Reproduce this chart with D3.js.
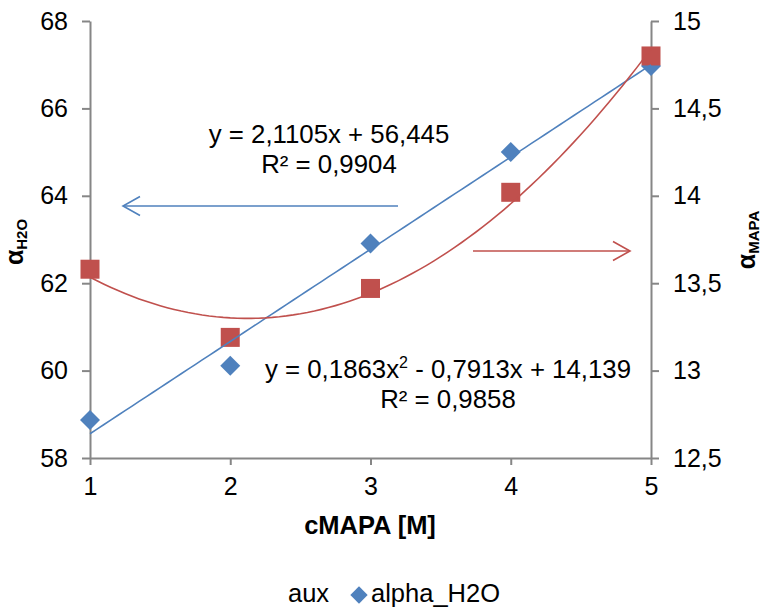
<!DOCTYPE html>
<html>
<head>
<meta charset="utf-8">
<script src="https://cdn.jsdelivr.net/npm/d3@7"></script>
<style>
  body { margin: 0; background: #fff; }
  svg { font-family: "Liberation Sans", Arial, sans-serif; }
</style>
</head>
<body>
<div id="chart"></div>
<script>
const width = 765, height = 610;

// data
const cMAPA = [1, 2, 3, 4, 5];
const alphaH2O = [58.87, 60.11, 62.91, 65.0, 66.97];
const alphaMAPA = [13.58, 13.19, 13.47, 14.02, 14.8];
const linCoef = [2.1105, 56.445];            // slope, intercept
const polyCoef = [0.1863, -0.7913, 14.139];  // a, b, c
const leftTicks = [58, 60, 62, 64, 66, 68];
const rightTicks = [12.5, 13, 13.5, 14, 14.5, 15];
const xTicks = [1, 2, 3, 4, 5];
const legendNames = ["aux", "alpha_H2O"];

const blue = "#4F81BD", red = "#C0504D", axisGrey = "#868686";

const svg = d3.select("#chart")
  .append("svg")
  .attr("width", width)
  .attr("height", height);

const xScale = d3.scaleLinear().domain([1, 5]).range([90, 651]);
const yLeft = d3.scaleLinear().domain([58, 68]).range([458, 21]);
const yRight = d3.scaleLinear().domain([12.5, 15]).range([458, 21]);

const fmt = d => String(d).replace(".", ",");

// axes
const xAxis = d3.axisBottom(xScale).tickValues(xTicks).tickSize(7).tickSizeOuter(0).tickPadding(9).tickFormat(d3.format("d"));
const leftAxis = d3.axisLeft(yLeft).tickValues(leftTicks).tickSize(8).tickSizeOuter(0).tickPadding(14).tickFormat(fmt);
const rightAxis = d3.axisRight(yRight).tickValues(rightTicks).tickSize(8).tickSizeOuter(0).tickPadding(14).tickFormat(fmt);

const styleAxis = g => {
  g.select(".domain").attr("stroke", axisGrey).attr("stroke-width", 2);
  g.selectAll(".tick line").attr("stroke", axisGrey).attr("stroke-width", 2);
  g.selectAll(".tick text").attr("fill", "#000").attr("font-size", 25)
    .attr("font-family", "'Liberation Sans', Arial, sans-serif");
};

svg.append("g").attr("transform", "translate(0,458)").call(xAxis).call(styleAxis)
  .selectAll(".tick text").attr("dy", "0.85em");
svg.append("g").attr("transform", "translate(90,0)").call(leftAxis).call(styleAxis);
svg.append("g").attr("transform", "translate(651,0)").call(rightAxis).call(styleAxis);

// markers
const diamond = d3.symbol().type(d3.symbolSquare).size(200);
svg.append("g").selectAll("path")
  .data(cMAPA.map((x, i) => ({ x, y: alphaH2O[i] })))
  .join("path")
  .attr("d", diamond)
  .attr("fill", blue)
  .attr("transform", d => `translate(${xScale(d.x)},${yLeft(d.y)}) rotate(45)`);

svg.append("g").selectAll("rect")
  .data(cMAPA.map((x, i) => ({ x, y: alphaMAPA[i] })))
  .join("rect")
  .attr("x", d => xScale(d.x) - 9.5)
  .attr("y", d => yRight(d.y) - 9.5)
  .attr("width", 19)
  .attr("height", 19)
  .attr("fill", red);

// trendlines
const xs = d3.range(1, 5.001, 0.05);
svg.append("path")
  .datum(xs)
  .attr("fill", "none")
  .attr("stroke", blue)
  .attr("stroke-width", 1.6)
  .attr("d", d3.line().x(x => xScale(x)).y(x => yLeft(linCoef[0] * x + linCoef[1])));

svg.append("path")
  .datum(xs)
  .attr("fill", "none")
  .attr("stroke", red)
  .attr("stroke-width", 1.6)
  .attr("d", d3.line().x(x => xScale(x)).y(x => yRight(polyCoef[0] * x * x + polyCoef[1] * x + polyCoef[2])));

// arrows
const arrow = (x1, x2, y, color) => {
  const dir = Math.sign(x2 - x1);
  svg.append("line").attr("x1", x1).attr("x2", x2).attr("y1", y).attr("y2", y)
    .attr("stroke", color).attr("stroke-width", 1.6);
  svg.append("path")
    .attr("d", `M${x2 - dir * 17},${y - 9.5} L${x2},${y} L${x2 - dir * 17},${y + 9.5}`)
    .attr("fill", "none").attr("stroke", color).attr("stroke-width", 1.6);
};
arrow(398, 123, 206, blue);
arrow(473, 630, 251, red);

// equations
const eq = svg.append("g").attr("font-size", 25.8).attr("fill", "#000").attr("text-anchor", "middle");
eq.append("text").attr("x", 329).attr("y", 143).text("y = 2,1105x + 56,445");
eq.append("text").attr("x", 329).attr("y", 173).text("R² = 0,9904");
const eq2 = eq.append("text").attr("x", 448).attr("y", 378);
eq2.append("tspan").text("y = 0,1863x");
eq2.append("tspan").attr("font-size", 16).attr("dy", -10).text("2");
eq2.append("tspan").attr("dy", 10).text(" - 0,7913x + 14,139");
eq.append("text").attr("x", 448).attr("y", 408).text("R² = 0,9858");

// axis titles
svg.append("text")
  .attr("x", 370).attr("y", 534)
  .attr("text-anchor", "middle")
  .attr("font-size", 25.5).attr("font-weight", "bold")
  .text("cMAPA [M]");

const yTitle = (x, y, sub) => {
  const t = svg.append("text")
    .attr("transform", `translate(${x},${y}) rotate(-90)`)
    .attr("text-anchor", "middle")
    .attr("font-weight", "bold");
  t.append("tspan").attr("font-size", 25).text("α");
  t.append("tspan").attr("font-size", 15).attr("dy", 4).text(sub);
};
yTitle(23, 242, "H2O");
yTitle(755, 240, "MAPA");

// legend
const legend = svg.append("g").attr("font-size", 25.5);
legend.append("text").attr("x", 288).attr("y", 602).text(legendNames[0]);
legend.append("path")
  .attr("d", d3.symbol().type(d3.symbolSquare).size(150))
  .attr("fill", blue)
  .attr("transform", "translate(359,595) rotate(45)");
legend.append("text").attr("x", 371).attr("y", 602).text(legendNames[1]);
</script>
</body>
</html>
